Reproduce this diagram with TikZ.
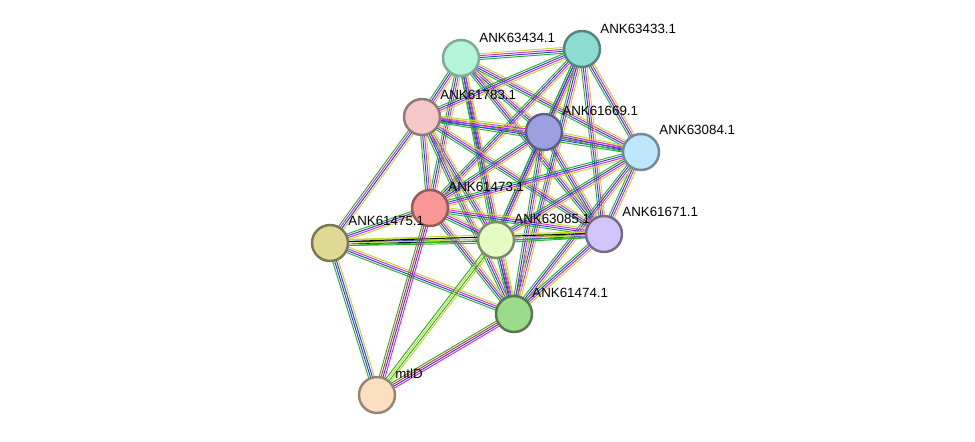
\documentclass[tikz,border=0pt]{standalone}
\usepackage{fontspec}
\setmainfont{Liberation Sans}
\usetikzlibrary{calc,backgrounds}
\definecolor{cMint}{RGB}{180,245,215}
\definecolor{cTeal}{RGB}{140,220,210}
\definecolor{cPink}{RGB}{245,200,200}
\definecolor{cSlate}{RGB}{155,160,225}
\definecolor{cSky}{RGB}{190,230,250}
\definecolor{cRed}{RGB}{250,150,150}
\definecolor{cOlive}{RGB}{222,218,150}
\definecolor{cLime}{RGB}{228,252,195}
\definecolor{cLilac}{RGB}{210,195,250}
\definecolor{cGreen}{RGB}{155,220,140}
\definecolor{cPeach}{RGB}{252,222,192}
\definecolor{eGreen}{RGB}{40,180,40}
\definecolor{eBlue}{RGB}{50,60,230}
\definecolor{eMag}{RGB}{220,40,220}
\definecolor{eYel}{RGB}{190,220,40}
\definecolor{eRed}{RGB}{235,40,40}
\newcommand\bundle[3]{%
  \foreach \c [count=\i] in {#3} {%
    \pgfmathsetmacro\off{(\i-2.5)*1.1}
    \draw[\c, line width=0.55pt] ($(#1)!\off pt!90:(#2)$) -- ($(#2)!\off pt!-90:(#1)$);
  }}
\begin{document}
\begin{tikzpicture}[x=0.02cm, y=-0.02cm,
    prot/.style={circle, minimum size=0.72cm, line width=1.4pt, inner sep=0pt},
    lbl/.style={anchor=south west, inner sep=0pt, font=\fontsize{7.6}{9}\selectfont}
]
    \useasboundingbox (0,0) rectangle (975,441);
    \node[prot, fill=cMint, draw=cMint!70!black] (a434) at (461,58) {};
    \node[prot, fill=cTeal, draw=cTeal!60!black] (a433) at (582,49) {};
    \node[prot, fill=cPink, draw=cPink!60!black] (a783) at (422,117) {};
    \node[prot, fill=cSlate, draw=cSlate!60!black] (a669) at (544,132) {};
    \node[prot, fill=cSky, draw=cSky!60!black] (a084) at (641,152) {};
    \node[prot, fill=cRed, draw=cRed!60!black] (a473) at (430,208) {};
    \node[prot, fill=cOlive, draw=cOlive!55!black] (a475) at (330,243) {};
    \node[prot, fill=cLime, draw=cLime!55!black] (a085) at (496,240) {};
    \node[prot, fill=cLilac, draw=cLilac!55!black] (a671) at (604,234) {};
    \node[prot, fill=cGreen, draw=cGreen!55!black] (a474) at (514,314) {};
    \node[prot, fill=cPeach, draw=cPeach!60!black] (mtl) at (377,395) {};

    \node[lbl] at (479,43) {ANK63434.1};
    \node[lbl] at (600,34) {ANK63433.1};
    \node[lbl] at (440,100) {ANK61783.1};
    \node[lbl] at (562,116) {ANK61669.1};
    \node[lbl] at (659,135) {ANK63084.1};
    \node[lbl] at (448,192) {ANK61473.1};
    \node[lbl] at (348,226) {ANK61475.1};
    \node[lbl] at (514,224) {ANK63085.1};
    \node[lbl] at (622,217) {ANK61671.1};
    \node[lbl] at (532,298) {ANK61474.1};
    \node[lbl] at (395,379) {mtlD};

    \begin{scope}[on background layer]
    \foreach \s/\t in {a434/a433,a434/a783,a434/a669,a434/a084,a434/a473,a434/a085,a434/a671,a434/a474,
        a433/a783,a433/a669,a433/a084,a433/a473,a433/a085,a433/a671,a433/a474,
        a783/a669,a783/a084,a783/a473,a783/a085,a783/a671,a783/a474,
        a669/a084,a669/a473,a669/a085,a669/a671,a669/a474,
        a084/a473,a084/a085,a084/a671,a084/a474,
        a473/a085,a473/a671,a473/a474,
        a085/a671,a085/a474,a671/a474}
      {\bundle{\s}{\t}{eGreen,eBlue,eMag,eYel}}
    \bundle{a783}{a475}{eGreen,eMag,eBlue,eYel}
    \bundle{a473}{a475}{eGreen,eBlue,eMag,eYel}
    \bundle{a475}{a085}{eGreen,black,eBlue,eYel}
    \bundle{a475}{a671}{eGreen,eYel,black,eYel}
    \bundle{a475}{a474}{eGreen,eBlue,eMag,eYel}
    \bundle{a475}{mtl}{eGreen,eBlue,eBlue,eYel}
    \bundle{a473}{mtl}{eGreen,eRed,eBlue,eMag}
    \bundle{a085}{mtl}{eGreen,eYel,eGreen,eYel}
    \bundle{a474}{mtl}{eGreen,eRed,eBlue,eMag}
    \end{scope}
\end{tikzpicture}
\end{document}
